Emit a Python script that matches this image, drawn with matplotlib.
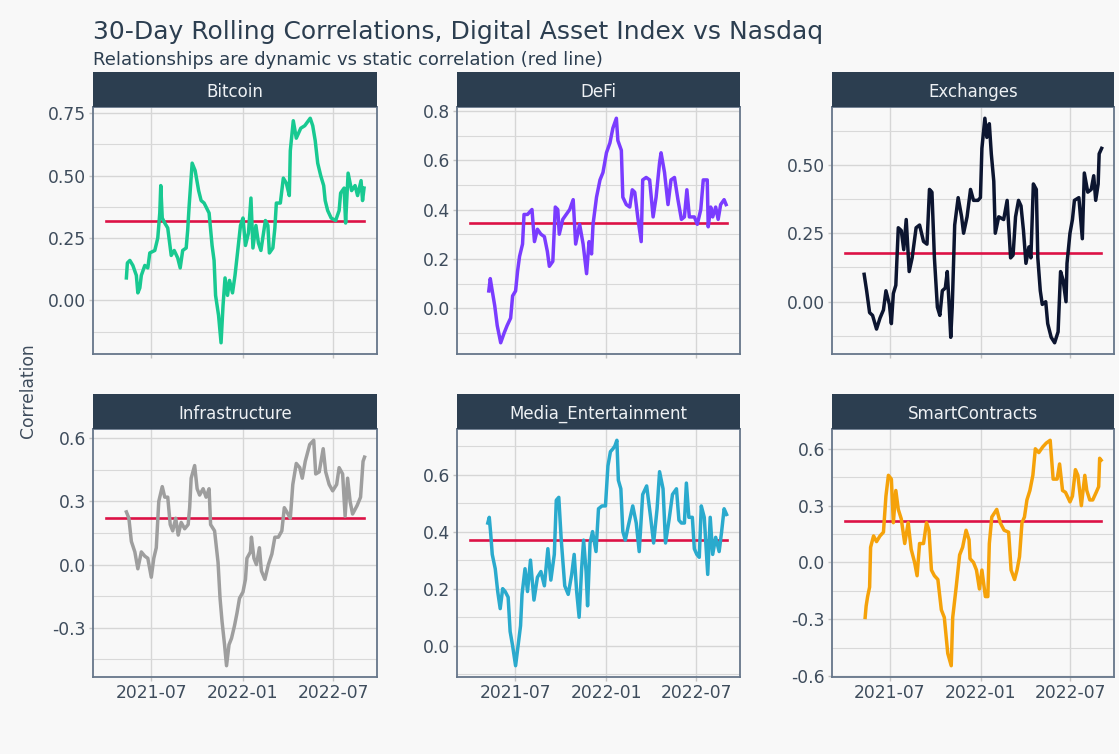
import numpy as np
import matplotlib
matplotlib.use("Agg")
import matplotlib.pyplot as plt
import matplotlib.dates as mdates
from matplotlib.ticker import MultipleLocator, FormatStrFormatter

plt.rcParams['font.family'] = ['DejaVu Sans']
plt.rcParams['axes.unicode_minus'] = False

# days counted from 2021-04-01
start_date = np.datetime64('2021-04-01')
last_day = 518

bitcoin_days = [41, 43, 48, 54, 61, 64, 68, 71, 78, 84, 88, 98, 104, 108, 110, 113, 118, 124, 131, 137,
                144, 149, 154, 161, 164, 167, 173, 179, 186, 191, 197, 207, 213, 217, 220, 226, 231, 235, 239, 244,
                248, 254, 259, 264, 270, 275, 280, 286, 291, 295, 301, 306, 311, 320, 325, 328, 335, 339, 342, 350,
                356, 362, 368, 370, 376, 382, 391, 399, 410, 415, 420, 425, 431, 437, 440, 445, 452, 461, 468, 471,
                478, 481, 486, 493, 500, 505, 512, 515, 518]
bitcoin_vals = [0.09, 0.15, 0.16, 0.14, 0.10, 0.03, 0.05, 0.10, 0.14, 0.13, 0.19, 0.20, 0.25, 0.35, 0.46, 0.33, 0.31, 0.29, 0.18, 0.20,
                0.17, 0.13, 0.20, 0.21, 0.28, 0.38, 0.55, 0.52, 0.44, 0.40, 0.39, 0.35, 0.22, 0.16, 0.02, -0.06, -0.17, -0.02, 0.09, 0.02,
                0.08, 0.03, 0.10, 0.19, 0.30, 0.33, 0.22, 0.27, 0.41, 0.21, 0.30, 0.23, 0.20, 0.32, 0.30, 0.19, 0.21, 0.29, 0.39, 0.39,
                0.49, 0.47, 0.42, 0.60, 0.72, 0.65, 0.69, 0.70, 0.73, 0.70, 0.64, 0.55, 0.50, 0.46, 0.40, 0.36, 0.33, 0.32, 0.36, 0.43,
                0.45, 0.31, 0.51, 0.44, 0.46, 0.42, 0.48, 0.40, 0.45]

defi_days = [38, 41, 45, 50, 55, 62, 69, 75, 82, 86, 92, 96, 100, 106, 109, 116, 125, 130, 136, 143,
             150, 156, 160, 167, 172, 177, 180, 187, 194, 201, 208, 213, 221, 228, 235, 240, 245, 248, 255, 262,
             268, 275, 282, 288, 295, 298, 305, 308, 315, 322, 327, 332, 338, 345, 348, 355, 362, 369, 375, 382,
             385, 392, 399, 405, 412, 419, 426, 432, 437, 442, 452, 458, 465, 470, 478, 480, 485, 489, 495, 500,
             505, 512, 516]
defi_vals = [0.07, 0.12, 0.07, 0.01, -0.07, -0.14, -0.10, -0.07, -0.04, 0.05, 0.07, 0.15, 0.21, 0.26, 0.38, 0.38, 0.40, 0.27, 0.32, 0.30,
             0.29, 0.23, 0.17, 0.19, 0.41, 0.40, 0.30, 0.36, 0.38, 0.40, 0.44, 0.26, 0.34, 0.26, 0.14, 0.27, 0.22, 0.34, 0.45, 0.52,
             0.55, 0.63, 0.67, 0.73, 0.77, 0.68, 0.64, 0.45, 0.42, 0.41, 0.48, 0.47, 0.37, 0.27, 0.52, 0.53, 0.52, 0.37, 0.45, 0.59,
             0.63, 0.55, 0.42, 0.52, 0.53, 0.44, 0.36, 0.37, 0.48, 0.37, 0.37, 0.34, 0.40, 0.52, 0.52, 0.33, 0.41, 0.37, 0.41, 0.36,
             0.42, 0.44, 0.42]

exchanges_days = [39, 44, 50, 56, 64, 71, 78, 83, 90, 94, 98, 103, 108, 114, 119, 124, 130, 136, 144, 151,
                  159, 166, 171, 176, 181, 187, 192, 197, 203, 207, 211, 214, 217, 222, 229, 236, 240, 247, 254, 260,
                  269, 274, 277, 283, 287, 292, 296, 301, 304, 311, 321, 328, 335, 340, 345, 351, 356, 361, 366, 372,
                  376, 381, 387, 390, 395, 399, 406, 410, 417, 424, 431, 436, 441, 447, 449, 455, 460, 464, 473, 480,
                  484, 491, 498, 503, 507, 512, 514, 519]
exchanges_vals = [0.10, 0.04, -0.04, -0.05, -0.10, -0.06, -0.03, 0.04, -0.01, -0.08, 0.03, 0.06, 0.27, 0.26, 0.19, 0.30, 0.11, 0.16, 0.27, 0.28,
                  0.22, 0.21, 0.41, 0.40, 0.16, -0.02, -0.05, 0.04, 0.05, 0.11, -0.02, -0.13, -0.02, 0.28, 0.38, 0.31, 0.25, 0.31, 0.41, 0.37,
                  0.37, 0.38, 0.56, 0.67, 0.60, 0.65, 0.54, 0.44, 0.25, 0.31, 0.30, 0.37, 0.16, 0.17, 0.31, 0.37, 0.35, 0.26, 0.14, 0.20,
                  0.16, 0.43, 0.41, 0.16, 0.04, -0.01, 0.00, -0.08, -0.13, -0.15, -0.11, 0.11, 0.08, 0.00, 0.14, 0.25, 0.30, 0.37, 0.38, 0.23,
                  0.47, 0.40, 0.41, 0.46, 0.37, 0.43, 0.54, 0.56]

infra_days = [41, 46, 51, 58, 64, 71, 78, 84, 91, 96, 101, 106, 113, 118, 124, 129, 134, 140, 145, 151,
              158, 165, 168, 171, 178, 183, 188, 195, 201, 207, 210, 218, 225, 229, 233, 238, 242, 247, 252, 258,
              263, 268, 275, 280, 283, 290, 292, 297, 302, 308, 312, 319, 326, 333, 339, 346, 353, 358, 363, 370,
              375, 382, 389, 394, 400, 409, 417, 421, 428, 436, 441, 448, 455, 463, 468, 475, 480, 485, 490, 495,
              504, 511, 516, 519]
infra_vals = [0.25, 0.22, 0.11, 0.06, -0.02, 0.06, 0.04, 0.03, -0.06, 0.03, 0.08, 0.30, 0.37, 0.32, 0.32, 0.19, 0.16, 0.22, 0.14, 0.20,
              0.17, 0.19, 0.27, 0.41, 0.47, 0.36, 0.33, 0.36, 0.32, 0.36, 0.19, 0.16, 0.01, -0.16, -0.27, -0.38, -0.48, -0.38, -0.35, -0.29,
              -0.23, -0.16, -0.13, -0.07, 0.03, 0.06, 0.13, 0.03, 0.00, 0.08, -0.03, -0.07, 0.00, 0.05, 0.13, 0.13, 0.16, 0.27, 0.25, 0.22,
              0.38, 0.48, 0.46, 0.41, 0.49, 0.57, 0.59, 0.43, 0.44, 0.55, 0.44, 0.38, 0.35, 0.38, 0.46, 0.43, 0.23, 0.41, 0.30, 0.24,
              0.28, 0.32, 0.49, 0.51]

media_days = [36, 39, 42, 45, 51, 56, 61, 66, 71, 77, 81, 86, 92, 97, 102, 105, 111, 116, 122, 129,
              136, 143, 150, 157, 163, 170, 174, 179, 184, 191, 198, 205, 210, 215, 220, 225, 229, 234, 237, 242,
              247, 254, 259, 266, 273, 278, 283, 288, 292, 296, 299, 304, 308, 313, 319, 328, 335, 341, 348, 356,
              364, 370, 377, 382, 389, 394, 401, 408, 416, 421, 426, 432, 436, 441, 448, 452, 457, 462, 466, 472,
              479, 484, 489, 495, 502, 507, 512, 517]
media_vals = [0.43, 0.45, 0.39, 0.32, 0.27, 0.19, 0.13, 0.20, 0.19, 0.17, 0.05, 0.00, -0.07, 0.00, 0.07, 0.18, 0.27, 0.19, 0.30, 0.16,
              0.24, 0.26, 0.21, 0.34, 0.23, 0.32, 0.51, 0.52, 0.37, 0.21, 0.18, 0.25, 0.32, 0.19, 0.10, 0.27, 0.37, 0.26, 0.14, 0.36,
              0.40, 0.33, 0.48, 0.49, 0.49, 0.63, 0.68, 0.69, 0.70, 0.72, 0.58, 0.55, 0.40, 0.37, 0.42, 0.49, 0.43, 0.33, 0.53, 0.56,
              0.45, 0.36, 0.48, 0.61, 0.55, 0.36, 0.44, 0.53, 0.55, 0.44, 0.43, 0.43, 0.57, 0.45, 0.45, 0.34, 0.32, 0.31, 0.49, 0.45,
              0.25, 0.45, 0.32, 0.38, 0.33, 0.40, 0.48, 0.46]

smart_days = [41, 43, 46, 50, 52, 58, 64, 71, 78, 83, 88, 94, 98, 103, 108, 114, 121, 128, 134, 141,
              146, 151, 159, 165, 170, 175, 181, 188, 195, 201, 208, 215, 218, 225, 232, 238, 245, 251, 253, 260,
              266, 272, 277, 284, 289, 292, 297, 307, 314, 322, 331, 336, 343, 348, 353, 358, 363, 368, 374, 380,
              385, 392, 400, 407, 415, 421, 429, 434, 440, 446, 455, 460, 466, 471, 478, 485, 489, 495, 501, 508,
              513, 515, 518]
smart_vals = [-0.29, -0.23, -0.18, -0.13, 0.08, 0.14, 0.11, 0.14, 0.16, 0.35, 0.46, 0.44, 0.21, 0.38, 0.28, 0.23, 0.10, 0.21, 0.07, 0.00,
              -0.07, 0.10, 0.10, 0.21, 0.17, -0.04, -0.07, -0.09, -0.25, -0.29, -0.48, -0.545, -0.29, -0.13, 0.04, 0.08, 0.17, 0.12, 0.02, 0.00,
              -0.04, -0.14, -0.04, -0.18, -0.18, 0.10, 0.24, 0.28, 0.21, 0.17, 0.16, -0.04, -0.09, -0.04, 0.03, 0.21, 0.24, 0.33, 0.38, 0.46,
              0.60, 0.58, 0.61, 0.63, 0.645, 0.44, 0.44, 0.52, 0.38, 0.37, 0.32, 0.35, 0.49, 0.46, 0.30, 0.46, 0.38, 0.33, 0.33, 0.37,
              0.40, 0.55, 0.54]

names = ['Bitcoin', 'DeFi', 'Exchanges', 'Infrastructure', 'Media_Entertainment', 'SmartContracts']
static_corr = [0.317, 0.345, 0.177, 0.219, 0.372, 0.22]
colors = ['#18c991', '#7a3cff', '#0c1530', '#9e9e9e', '#2aaacd', '#f5a20a']
tick_steps = [0.25, 0.2, 0.25, 0.3, 0.2, 0.3]
tick_fmts = ['%.2f', '%.1f', '%.2f', '%.1f', '%.1f', '%.1f']

all_days = [bitcoin_days, defi_days, exchanges_days, infra_days, media_days, smart_days]
all_vals = [bitcoin_vals, defi_vals, exchanges_vals, infra_vals, media_vals, smart_vals]

bg = '#f8f8f8'
navy = '#2c3e50'
txt = '#3e4c5c'

fig = plt.figure(figsize=(11.19, 7.54), dpi=100, facecolor=bg)
W, H = 1119.0, 754.0

lefts = [93, 457, 832]
widths = [284, 283, 282]
rows = [(107, 354), (429, 677)]
strip_h = 35

def to_dates(d):
    return start_date + np.array(d, dtype='timedelta64[D]')

for i, name in enumerate(names):
    r, c = divmod(i, 3)
    top, bot = rows[r]
    ax = fig.add_axes([lefts[c] / W, 1 - bot / H, widths[c] / W, (bot - top) / H])
    ax.set_facecolor(bg)
    ax.plot(to_dates([0, last_day]), [static_corr[i]] * 2, color='#dc1246', lw=1.9, zorder=3)
    ax.plot(to_dates(all_days[i]), all_vals[i], color=colors[i], lw=2.5, zorder=4)
    ax.set_xlim(to_dates([0, last_day])[0] - np.timedelta64(26, 'D'),
                to_dates([0, last_day])[1] + np.timedelta64(26, 'D'))
    lo = min(min(all_vals[i]), static_corr[i])
    hi = max(max(all_vals[i]), static_corr[i])
    pad = (hi - lo) * 0.05
    ax.set_ylim(lo - pad, hi + pad)

    ax.xaxis.set_major_locator(mdates.MonthLocator(bymonth=[1, 7]))
    ax.xaxis.set_major_formatter(mdates.DateFormatter('%Y-%m'))
    ax.yaxis.set_major_locator(MultipleLocator(tick_steps[i]))
    ax.yaxis.set_minor_locator(MultipleLocator(tick_steps[i] / 2))
    ax.yaxis.set_major_formatter(FormatStrFormatter(tick_fmts[i]))
    ax.grid(True, which='major', color='#d6d6d6', lw=1.0)
    ax.grid(True, which='minor', axis='y', color='#d9d9d9', lw=0.8)
    ax.set_axisbelow(True)
    ax.tick_params(axis='both', which='major', length=3, color='#c4c4c4', width=1,
                   labelsize=12.3, labelcolor=txt, pad=2)
    ax.tick_params(axis='y', which='minor', length=0)
    if r == 0:
        ax.tick_params(axis='x', labelbottom=False)
    for s in ax.spines.values():
        s.set_color('#66768a')
        s.set_linewidth(1.3)

    sax = fig.add_axes([lefts[c] / W, 1 - top / H, widths[c] / W, strip_h / H])
    sax.set_facecolor(navy)
    sax.set_xticks([])
    sax.set_yticks([])
    for s in sax.spines.values():
        s.set_visible(False)
    sax.text(0.5, 0.44, name, ha='center', va='center', color='#eef1f4', fontsize=12,
             transform=sax.transAxes)

fig.text(93 / W, 1 - 39.5 / H, '30-Day Rolling Correlations, Digital Asset Index vs Nasdaq',
         fontsize=18, color=navy, ha='left', va='baseline')
fig.text(93 / W, 1 - 65 / H, 'Relationships are dynamic vs static correlation (red line)',
         fontsize=13, color=navy, ha='left', va='baseline')
fig.text(28 / W, 1 - 391 / H, 'Correlation', rotation=90, fontsize=12.3, color=txt,
         ha='center', va='center')

fig.savefig('out.png', dpi=100, facecolor=bg)
